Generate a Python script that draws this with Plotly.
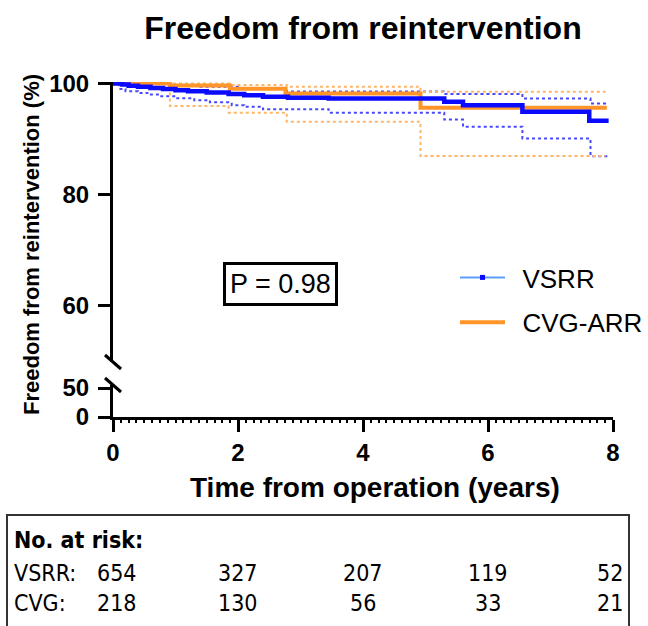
import plotly.graph_objects as go

# ---------------- data ----------------
# VSRR Kaplan-Meier estimate and 95% CI (time in years, freedom in %)
vsrr_t = [0, 0.15, 0.25, 0.4, 0.6, 0.8, 1.0, 1.2, 1.5, 1.85, 2.1, 2.4, 2.8, 3.45, 5.3, 5.6, 6.55, 7.62, 7.93]
vsrr_s = [100, 99.8, 99.6, 99.4, 99.2, 99.0, 98.8, 98.6, 98.4, 98.1, 97.9, 97.6, 97.45, 97.3, 96.7, 96.1, 94.9, 93.3, 93.3]
vsrr_hi_t = [0, 0.4, 0.9, 1.4, 2.0, 2.78, 5.29, 6.55, 7.64, 7.93]
vsrr_hi_s = [100, 99.95, 99.7, 99.4, 99.15, 98.55, 98.1, 97.3, 96.4, 96.4]
vsrr_lo_t = [0, 0.1, 0.2, 0.4, 0.55, 0.75, 1.0, 1.3, 1.55, 1.9, 2.1, 2.4, 3.45, 5.3, 5.6, 6.55, 7.64, 7.93]
vsrr_lo_s = [100, 99.0, 98.6, 98.3, 98.0, 97.7, 97.35, 97.0, 96.6, 96.1, 95.8, 95.35, 94.75, 93.5, 92.2, 90.1, 86.9, 86.9]

# CVG-ARR Kaplan-Meier estimate and 95% CI
cvg_t = [0, 0.91, 1.87, 2.76, 4.92, 7.9]
cvg_s = [100, 99.65, 99.05, 98.2, 95.65, 95.65]
cvg_hi_t = [0, 1.87, 2.78, 4.92, 7.88]
cvg_hi_s = [100, 99.73, 99.43, 98.53, 98.53]
cvg_lo_t = [0, 0.91, 1.85, 2.78, 4.92, 7.88]
cvg_lo_s = [100, 95.95, 94.74, 93.12, 86.94, 86.94]

# Number at risk table
risk_times = [0, 2, 4, 6, 8]
risk_vsrr = [654, 327, 207, 119, 52]
risk_cvg = [218, 130, 56, 33, 21]

x_ticks = [0, 2, 4, 6, 8]
y_upper_ticks = [60, 80, 100]
y_lower_ticks = [0, 50]

p_text = "P = 0.98"

# ---------------- geometry ----------------
W, H = 648, 626
L, R, T, B = 113, 35, 82, 209
PW, PH = W - L - R, H - T - B
FONT = "Liberation Sans, Arial, Helvetica, sans-serif"
NARROW = "Liberation Sans Narrow, Arial Narrow, DejaVu Sans Condensed, sans-serif"

def py(pix):  # pixel row -> paper y
    return (H - B - pix) / PH

def px(pix):  # pixel col -> paper x
    return (pix - L) / PW

BLUE = "#0a0aff"
BLUE_CI = "#4848ff"
ORANGE = "#ff9428"
ORANGE_CI = "#ffb566"

fig = go.Figure()

# invisible trace so the lower (broken) y-axis segment is drawn
fig.add_trace(go.Scatter(x=[None], y=[None], mode="lines", yaxis="y", showlegend=False, hoverinfo="skip"))

# CI lines
for t, s, c in [(vsrr_hi_t, vsrr_hi_s, BLUE_CI), (vsrr_lo_t, vsrr_lo_s, BLUE_CI),
                (cvg_hi_t, cvg_hi_s, ORANGE_CI), (cvg_lo_t, cvg_lo_s, ORANGE_CI)]:
    fig.add_trace(go.Scatter(x=t, y=s, mode="lines", line=dict(color=c, width=2, dash="dot", shape="hv"),
                             yaxis="y2", showlegend=False, hoverinfo="skip"))

# Survival curves
fig.add_trace(go.Scatter(x=cvg_t, y=cvg_s, mode="lines", line=dict(color=ORANGE, width=4, shape="hv"),
                         yaxis="y2", showlegend=False, name="CVG-ARR"))
fig.add_trace(go.Scatter(x=vsrr_t, y=vsrr_s, mode="lines", line=dict(color=BLUE, width=4.5, shape="hv"),
                         yaxis="y2", showlegend=False, name="VSRR"))

# Legend entries
fig.add_trace(go.Scatter(x=[None], y=[None], mode="lines+markers", name="\u00a0\u2009VSRR", legendgroup="a",
                         line=dict(color="#5c9dff", width=2),
                         marker=dict(symbol="square", size=5, color=BLUE), yaxis="y2"))
fig.add_trace(go.Scatter(x=[None], y=[None], mode="lines", name="\u00a0\u2009CVG-ARR", legendgroup="b",
                         line=dict(color=ORANGE, width=4), yaxis="y2"))

axis_common = dict(showgrid=False, zeroline=False, showline=True, linecolor="black", linewidth=3,
                   ticks="outside", ticklen=12, tickwidth=3, tickcolor="black",
                   tickfont=dict(family=FONT, size=24, color="black", weight="bold"))

upper_top = 100 + 1.5 / 5.55
upper_lo = upper_top - (362 - T) / 5.55
lower_px = 32
lower_top = 50 * lower_px / 29.0

fig.update_layout(
    width=W, height=H,
    margin=dict(l=L, r=R, t=T, b=B, autoexpand=False),
    paper_bgcolor="white", plot_bgcolor="white",
    xaxis=dict(range=[0, 8], tickvals=x_ticks, anchor="y", domain=[0, 1],
               minor=dict(ticks="outside", ticklen=3, tickwidth=1.5, tickcolor="black", dtick=0.125),
               ticklabelstandoff=0, **axis_common),
    yaxis=dict(range=[0, lower_top], tickvals=y_lower_ticks, domain=[0, lower_px / PH], anchor="x",
               ticklabelstandoff=4, **axis_common),
    yaxis2=dict(range=[upper_lo, upper_top], tickvals=y_upper_ticks, domain=[(H - B - 362) / PH, 1],
                anchor="x", ticklabelstandoff=4, **axis_common),
    title=dict(text="<b>Freedom from reintervention</b>", x=(L + PW / 2) / W, xanchor="center",
               y=1 - 28 / H, yanchor="middle", yref="container",
               font=dict(family=FONT, size=32, color="black")),
    legend=dict(x=px(455), y=py(254), xanchor="left", yanchor="top", bgcolor="rgba(0,0,0,0)",
                font=dict(family=FONT, size=26, color="black"), traceorder="grouped",
                tracegroupgap=8, itemwidth=45),
    showlegend=True,
)

# Axis titles
fig.add_annotation(text="<b>Freedom from reintervention (%)</b>", xref="paper", yref="paper",
                   x=px(31), y=py(245), textangle=-90, showarrow=False,
                   font=dict(family=FONT, size=22, color="black"), xanchor="center", yanchor="middle")
fig.add_annotation(text="<b>Time from operation (years)</b>", xref="paper", yref="paper",
                   x=px(375), y=py(487), showarrow=False,
                   font=dict(family=FONT, size=28, color="black"), xanchor="center", yanchor="middle")

# P value box
fig.add_annotation(text=p_text, xref="paper", yref="paper", x=px(280), y=py(284), showarrow=False,
                   font=dict(family=FONT, size=27, color="black"), bordercolor="black", borderwidth=3,
                   borderpad=4, bgcolor="white", xanchor="center", yanchor="middle")

# Axis break slashes
for y0 in (355, 378):
    fig.add_shape(type="line", xref="paper", yref="paper", x0=px(105), x1=px(121), y0=py(y0), y1=py(y0 + 14),
                  line=dict(color="black", width=3))

# Number at risk table
fig.add_shape(type="rect", xref="paper", yref="paper", x0=px(7), x1=px(629), y0=py(515), y1=py(660),
              line=dict(color="#333333", width=2), fillcolor="rgba(0,0,0,0)")
fig.add_annotation(text="<b>No. at risk:</b>", xref="paper", yref="paper", x=px(12), y=py(540),
                   showarrow=False, xanchor="left", yanchor="middle",
                   font=dict(family=NARROW, size=23, color="black"))
for label, vals, yy in [("VSRR:", risk_vsrr, 573), ("CVG:", risk_cvg, 603)]:
    fig.add_annotation(text=label, xref="paper", yref="paper", x=px(12), y=py(yy), showarrow=False,
                       xanchor="left", yanchor="middle", font=dict(family=NARROW, size=23, color="black"))
    for t, v in zip(risk_times, vals):
        xpix = L + t / 8 * PW
        if t == 0:
            xpix += 4
        if t == 8:
            xpix -= 3
        fig.add_annotation(text=str(v), xref="paper", yref="paper", x=px(xpix), y=py(yy), showarrow=False,
                           xanchor="center", yanchor="middle", font=dict(family=NARROW, size=23, color="black"))

fig.write_html("out.html", config={"displayModeBar": False},
               post_script="document.body.style.margin='0';")
